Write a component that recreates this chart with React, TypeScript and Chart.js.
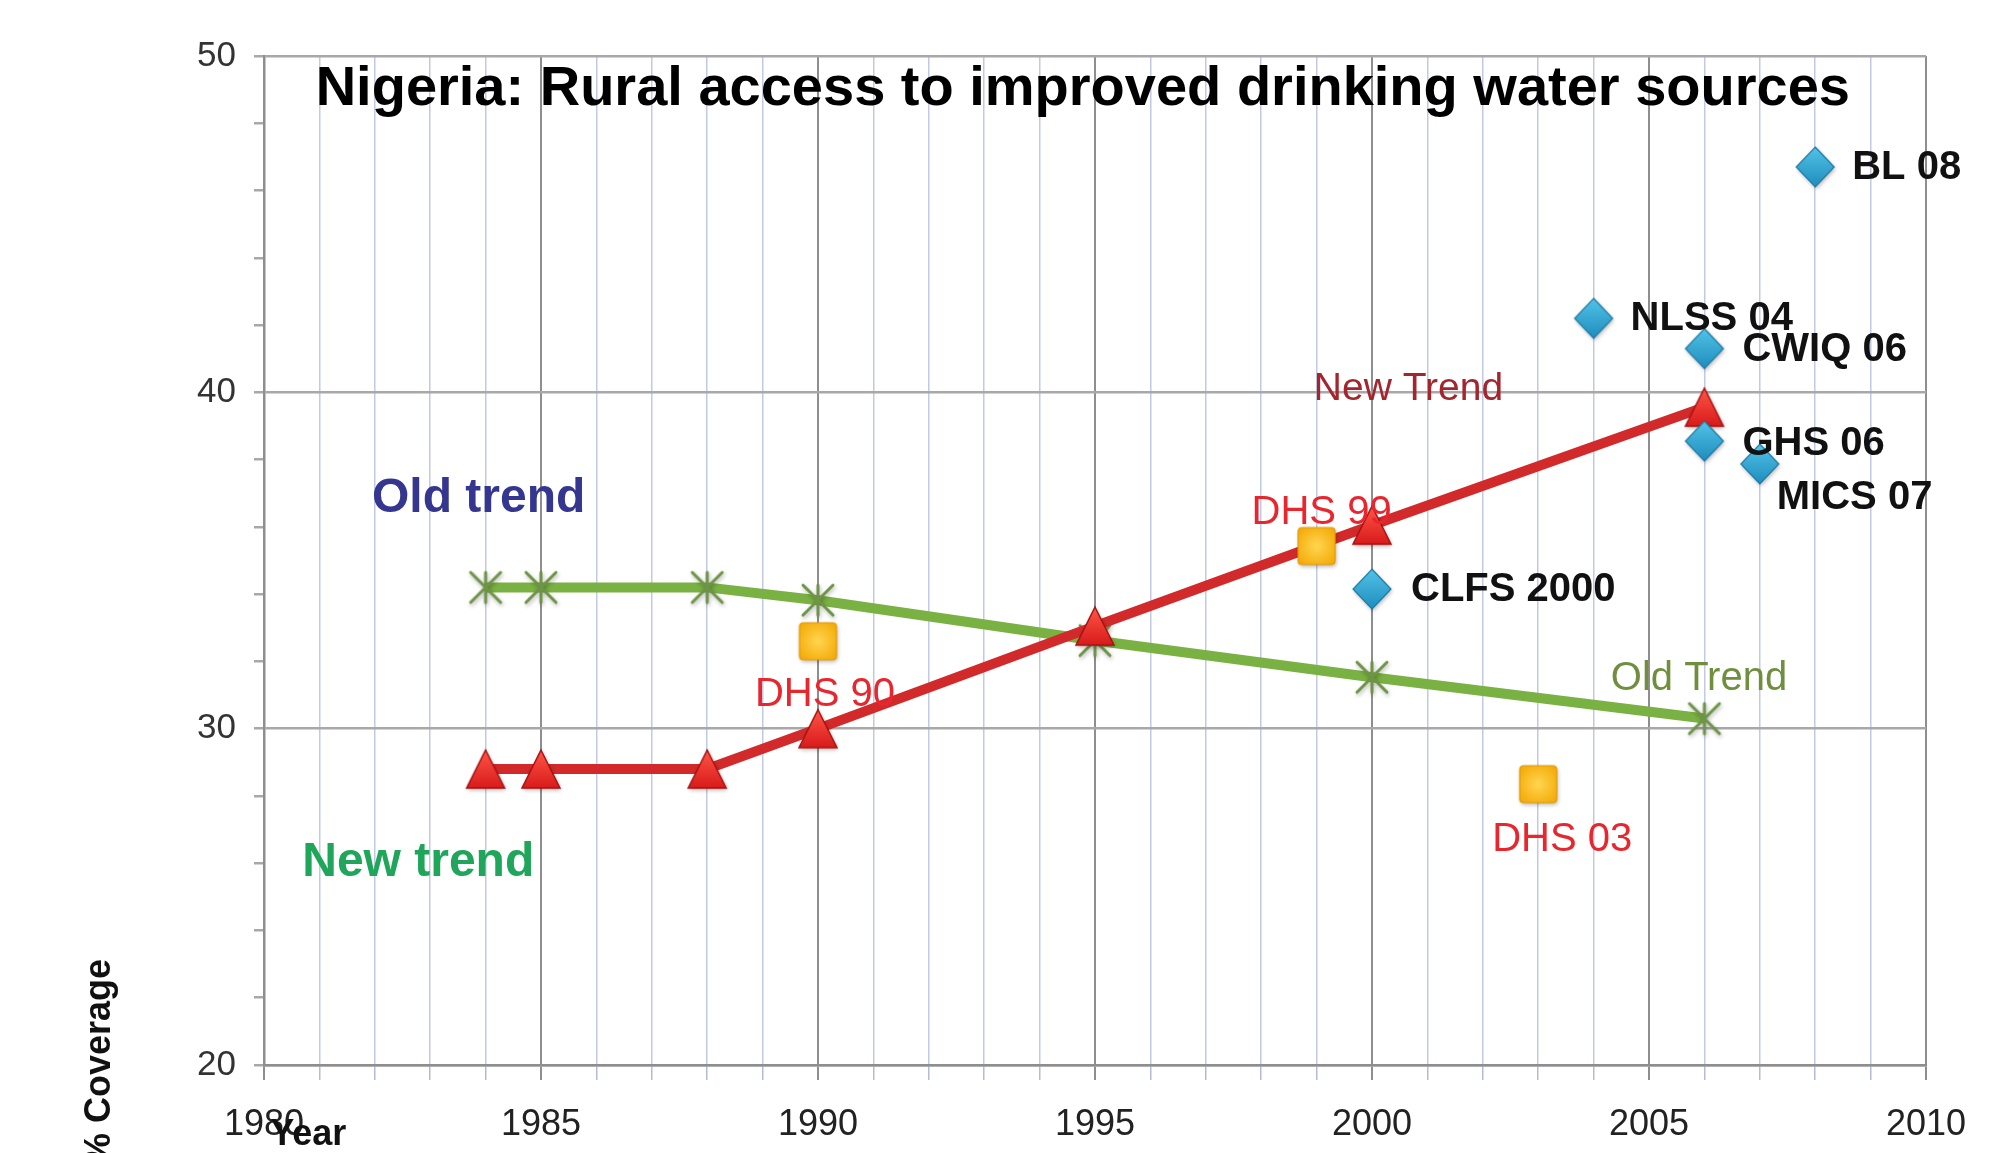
import React, { useEffect, useRef } from 'react';
import { Chart, registerables } from 'chart.js';

Chart.register(...registerables);

// ---------- data ----------
const chartTitle = 'Nigeria: Rural access to improved drinking water sources';

const newTrendYears = [1984, 1985, 1988, 1990, 1995, 2000, 2006];
const newTrendValues = [28.8, 28.8, 28.8, 30.0, 33.05, 36.05, 39.56];

const oldTrendYears = [1984, 1985, 1988, 1990, 1995, 2000, 2006];
const oldTrendValues = [34.2, 34.2, 34.2, 33.82, 32.62, 31.53, 30.3];

const dhsYears = [1990, 1999, 2003];
const dhsValues = [32.6, 35.43, 28.35];
const dhsLabels = ['DHS 90', 'DHS 99', 'DHS 03'];

const surveyYears = [2000, 2004, 2006, 2006, 2007, 2008];
const surveyValues = [34.15, 42.2, 41.3, 38.55, 37.87, 46.7];
const surveyLabels = ['CLFS 2000', 'NLSS 04', 'CWIQ 06', 'GHS 06', 'MICS 07', 'BL 08'];

const xTickLabels = ['1980', '1985', '1990', '1995', '2000', '2005', '2010'];
const yTickLabels = ['20', '30', '40', '50'];

// free-floating annotation texts (anchored in data units)
const trendTexts = ['New Trend', 'Old Trend', 'Old trend', 'New trend'];
const trendTextYears = [1998.95, 2004.31, 1981.95, 1980.69];
const trendTextValues = [40.1, 31.47, 36.85, 26.02];

// ---------- styles ----------
const FONT = '"Liberation Sans", Arial, sans-serif';
const trendTextStyles = [
  { font: `39px ${FONT}`, color: '#a3262f' },
  { font: `40px ${FONT}`, color: '#6f8f3e' },
  { font: `bold 48px ${FONT}`, color: '#34368f' },
  { font: `bold 48px ${FONT}`, color: '#20a65a' },
];
// label offsets from their points, in pixels
const dhsOffsets = [
  [7, 54],
  [5, -33],
  [24, 56],
];
const surveyOffsets = [
  [39, 1],
  [37, 1],
  [38, 1],
  [38, 3],
  [17, 34],
  [37, 1],
];

function makeMarker(kind: string, w: number, h: number): HTMLCanvasElement {
  const pad = 7;
  const c = document.createElement('canvas');
  c.width = w + pad * 2;
  c.height = h + pad * 2;
  const g = c.getContext('2d') as CanvasRenderingContext2D;
  g.translate(pad, pad);
  g.shadowColor = 'rgba(0,0,0,0.30)';
  g.shadowBlur = 4;
  g.shadowOffsetX = 1;
  g.shadowOffsetY = 2;
  if (kind === 'triangle') {
    const gr = g.createLinearGradient(0, 0, 0, h);
    gr.addColorStop(0, '#ff5646');
    gr.addColorStop(1, '#d81b1b');
    g.beginPath();
    g.moveTo(w / 2, 0);
    g.lineTo(w, h);
    g.lineTo(0, h);
    g.closePath();
    g.fillStyle = gr;
    g.fill();
    g.shadowColor = 'transparent';
    g.strokeStyle = '#a81212';
    g.lineWidth = 1.5;
    g.stroke();
  } else if (kind === 'square') {
    const gr = g.createRadialGradient(w / 2, h / 2, 2, w / 2, h / 2, w * 0.7);
    gr.addColorStop(0, '#ffd24a');
    gr.addColorStop(1, '#f2a600');
    const r = 4;
    g.beginPath();
    g.moveTo(r, 0);
    g.lineTo(w - r, 0);
    g.quadraticCurveTo(w, 0, w, r);
    g.lineTo(w, h - r);
    g.quadraticCurveTo(w, h, w - r, h);
    g.lineTo(r, h);
    g.quadraticCurveTo(0, h, 0, h - r);
    g.lineTo(0, r);
    g.quadraticCurveTo(0, 0, r, 0);
    g.closePath();
    g.fillStyle = gr;
    g.fill();
    g.shadowColor = 'transparent';
    g.strokeStyle = '#e39a00';
    g.lineWidth = 1.2;
    g.stroke();
  } else if (kind === 'diamond') {
    const gr = g.createLinearGradient(0, 0, 0, h);
    gr.addColorStop(0, '#52c3e8');
    gr.addColorStop(1, '#1e8dbd');
    g.beginPath();
    g.moveTo(w / 2, 0);
    g.lineTo(w, h / 2);
    g.lineTo(w / 2, h);
    g.lineTo(0, h / 2);
    g.closePath();
    g.fillStyle = gr;
    g.fill();
    g.shadowColor = 'transparent';
    g.strokeStyle = '#1b78a3';
    g.lineWidth = 1.2;
    g.stroke();
  } else {
    g.strokeStyle = '#6e9446';
    g.lineWidth = 3;
    g.lineCap = 'round';
    g.beginPath();
    g.moveTo(0, 0);
    g.lineTo(w, h);
    g.moveTo(w, 0);
    g.lineTo(0, h);
    g.moveTo(w / 2, 0);
    g.lineTo(w / 2, h);
    g.stroke();
  }
  return c;
}

const textPlugin = {
  id: 'chartTexts',
  afterDatasetsDraw(chart: any) {
    const { ctx, chartArea } = chart;
    const xs = chart.scales.x;
    const ys = chart.scales.y;
    const put = (
      text: string,
      px: number,
      py: number,
      font: string,
      color: string,
      align: CanvasTextAlign = 'left',
      rot = 0
    ) => {
      ctx.save();
      ctx.font = font;
      ctx.fillStyle = color;
      ctx.textAlign = align;
      ctx.textBaseline = 'middle';
      ctx.translate(px, py);
      if (rot) ctx.rotate(rot);
      ctx.fillText(text, 0, 0);
      ctx.restore();
    };
    // title
    put(chartTitle, xs.getPixelForValue(1994.78), chartArea.top + 34, `bold 56px ${FONT}`, '#000', 'center');
    // trend texts
    trendTexts.forEach((t, i) => {
      put(
        t,
        xs.getPixelForValue(trendTextYears[i]),
        ys.getPixelForValue(trendTextValues[i]),
        trendTextStyles[i].font,
        trendTextStyles[i].color
      );
    });
    // DHS labels
    dhsLabels.forEach((t, i) => {
      put(
        t,
        xs.getPixelForValue(dhsYears[i]) + dhsOffsets[i][0],
        ys.getPixelForValue(dhsValues[i]) + dhsOffsets[i][1],
        `40px ${FONT}`,
        '#e8262d',
        'center'
      );
    });
    // survey labels
    surveyLabels.forEach((t, i) => {
      put(
        t,
        xs.getPixelForValue(surveyYears[i]) + surveyOffsets[i][0],
        ys.getPixelForValue(surveyValues[i]) + surveyOffsets[i][1],
        `bold 40px ${FONT}`,
        '#111'
      );
    });
    // axis titles
    put('Year', xs.getPixelForValue(1980.8), chartArea.bottom + 70, `bold 36px ${FONT}`, '#111', 'center');
    put('% Coverage', chartArea.left - 164, chartArea.bottom - 3, `bold 36px ${FONT}`, '#111', 'center', -Math.PI / 2);
  },
};

export default function App() {
  const ref = useRef<HTMLCanvasElement | null>(null);

  useEffect(() => {
    document.body.style.margin = '0';
    document.body.style.overflow = 'hidden';
    const canvas = ref.current;
    if (!canvas) return;

    const tri = makeMarker('triangle', 38, 38);
    const sq = makeMarker('square', 37, 37);
    const dia = makeMarker('diamond', 38, 40);
    const star = makeMarker('star', 30, 30);

    const pts = (xsArr: number[], ysArr: number[]) => xsArr.map((x, i) => ({ x, y: ysArr[i] }));

    const chart = new Chart(canvas, {
      type: 'scatter',
      data: {
        datasets: [
          {
            label: 'Surveys',
            data: pts(surveyYears, surveyValues),
            pointStyle: dia as any,
            pointRadius: 19,
            showLine: false,
          },
          {
            label: 'DHS',
            data: pts(dhsYears, dhsValues),
            pointStyle: sq as any,
            pointRadius: 18,
            showLine: false,
          },
          {
            label: 'New Trend',
            data: pts(newTrendYears, newTrendValues),
            showLine: true,
            borderColor: '#d22a2a',
            borderWidth: 10,
            pointStyle: tri as any,
            pointRadius: 19,
            tension: 0,
          },
          {
            label: 'Old Trend',
            data: pts(oldTrendYears, oldTrendValues),
            showLine: true,
            borderColor: '#7ab143',
            borderWidth: 10,
            pointStyle: star as any,
            pointRadius: 16,
            tension: 0,
          },
        ],
      },
      options: {
        responsive: false,
        animation: false,
        devicePixelRatio: 1,
        layout: { padding: { top: 56, right: 74, left: 0, bottom: 0 } },
        plugins: {
          legend: { display: false },
          tooltip: { enabled: false },
          title: { display: false },
        },
        scales: {
          x: {
            type: 'linear',
            min: 1980,
            max: 2010,
            afterFit: (s: any) => {
              s.height = 88;
            },
            border: { color: '#8e8e8e', width: 2.5 },
            grid: {
              color: (c: any) => (c.tick && Math.round(c.tick.value) % 5 === 0 ? '#8e8e8e' : '#c2c9e3'),
              lineWidth: (c: any) => (c.tick && Math.round(c.tick.value) % 5 === 0 ? 2 : 1.5),
              tickColor: (c: any) => (c.tick && Math.round(c.tick.value) % 5 === 0 ? '#8e8e8e' : '#b4bbd6'),
              tickLength: 15,
              drawTicks: true,
            },
            ticks: {
              stepSize: 1,
              autoSkip: false,
              maxRotation: 0,
              padding: 23,
              color: '#222',
              font: { family: FONT, size: 36 },
              callback: (v: any) => {
                const s = String(Math.round(Number(v)));
                return xTickLabels.includes(s) ? s : '';
              },
            },
          },
          y: {
            type: 'linear',
            min: 20,
            max: 50,
            afterFit: (s: any) => {
              s.width = 264;
            },
            border: { color: '#8e8e8e', width: 2.5 },
            grid: {
              color: (c: any) => (c.tick && Math.round(c.tick.value) % 10 === 0 ? '#a8a8a8' : 'rgba(0,0,0,0)'),
              lineWidth: 2.5,
              tickColor: '#a8a8a8',
              tickLength: 10,
              drawTicks: true,
            },
            ticks: {
              stepSize: 2,
              autoSkip: false,
              padding: 18,
              color: '#333',
              font: { family: FONT, size: 35 },
              callback: (v: any) => {
                const s = String(Math.round(Number(v)));
                return yTickLabels.includes(s) ? s : '';
              },
            },
          },
        },
      },
      plugins: [textPlugin],
    });

    return () => {
      chart.destroy();
    };
  }, []);

  return (
    <div style={{ width: 2000, height: 1153, background: '#fff' }}>
      <canvas ref={ref} width={2000} height={1153} style={{ display: 'block', width: 2000, height: 1153 }} />
    </div>
  );
}
